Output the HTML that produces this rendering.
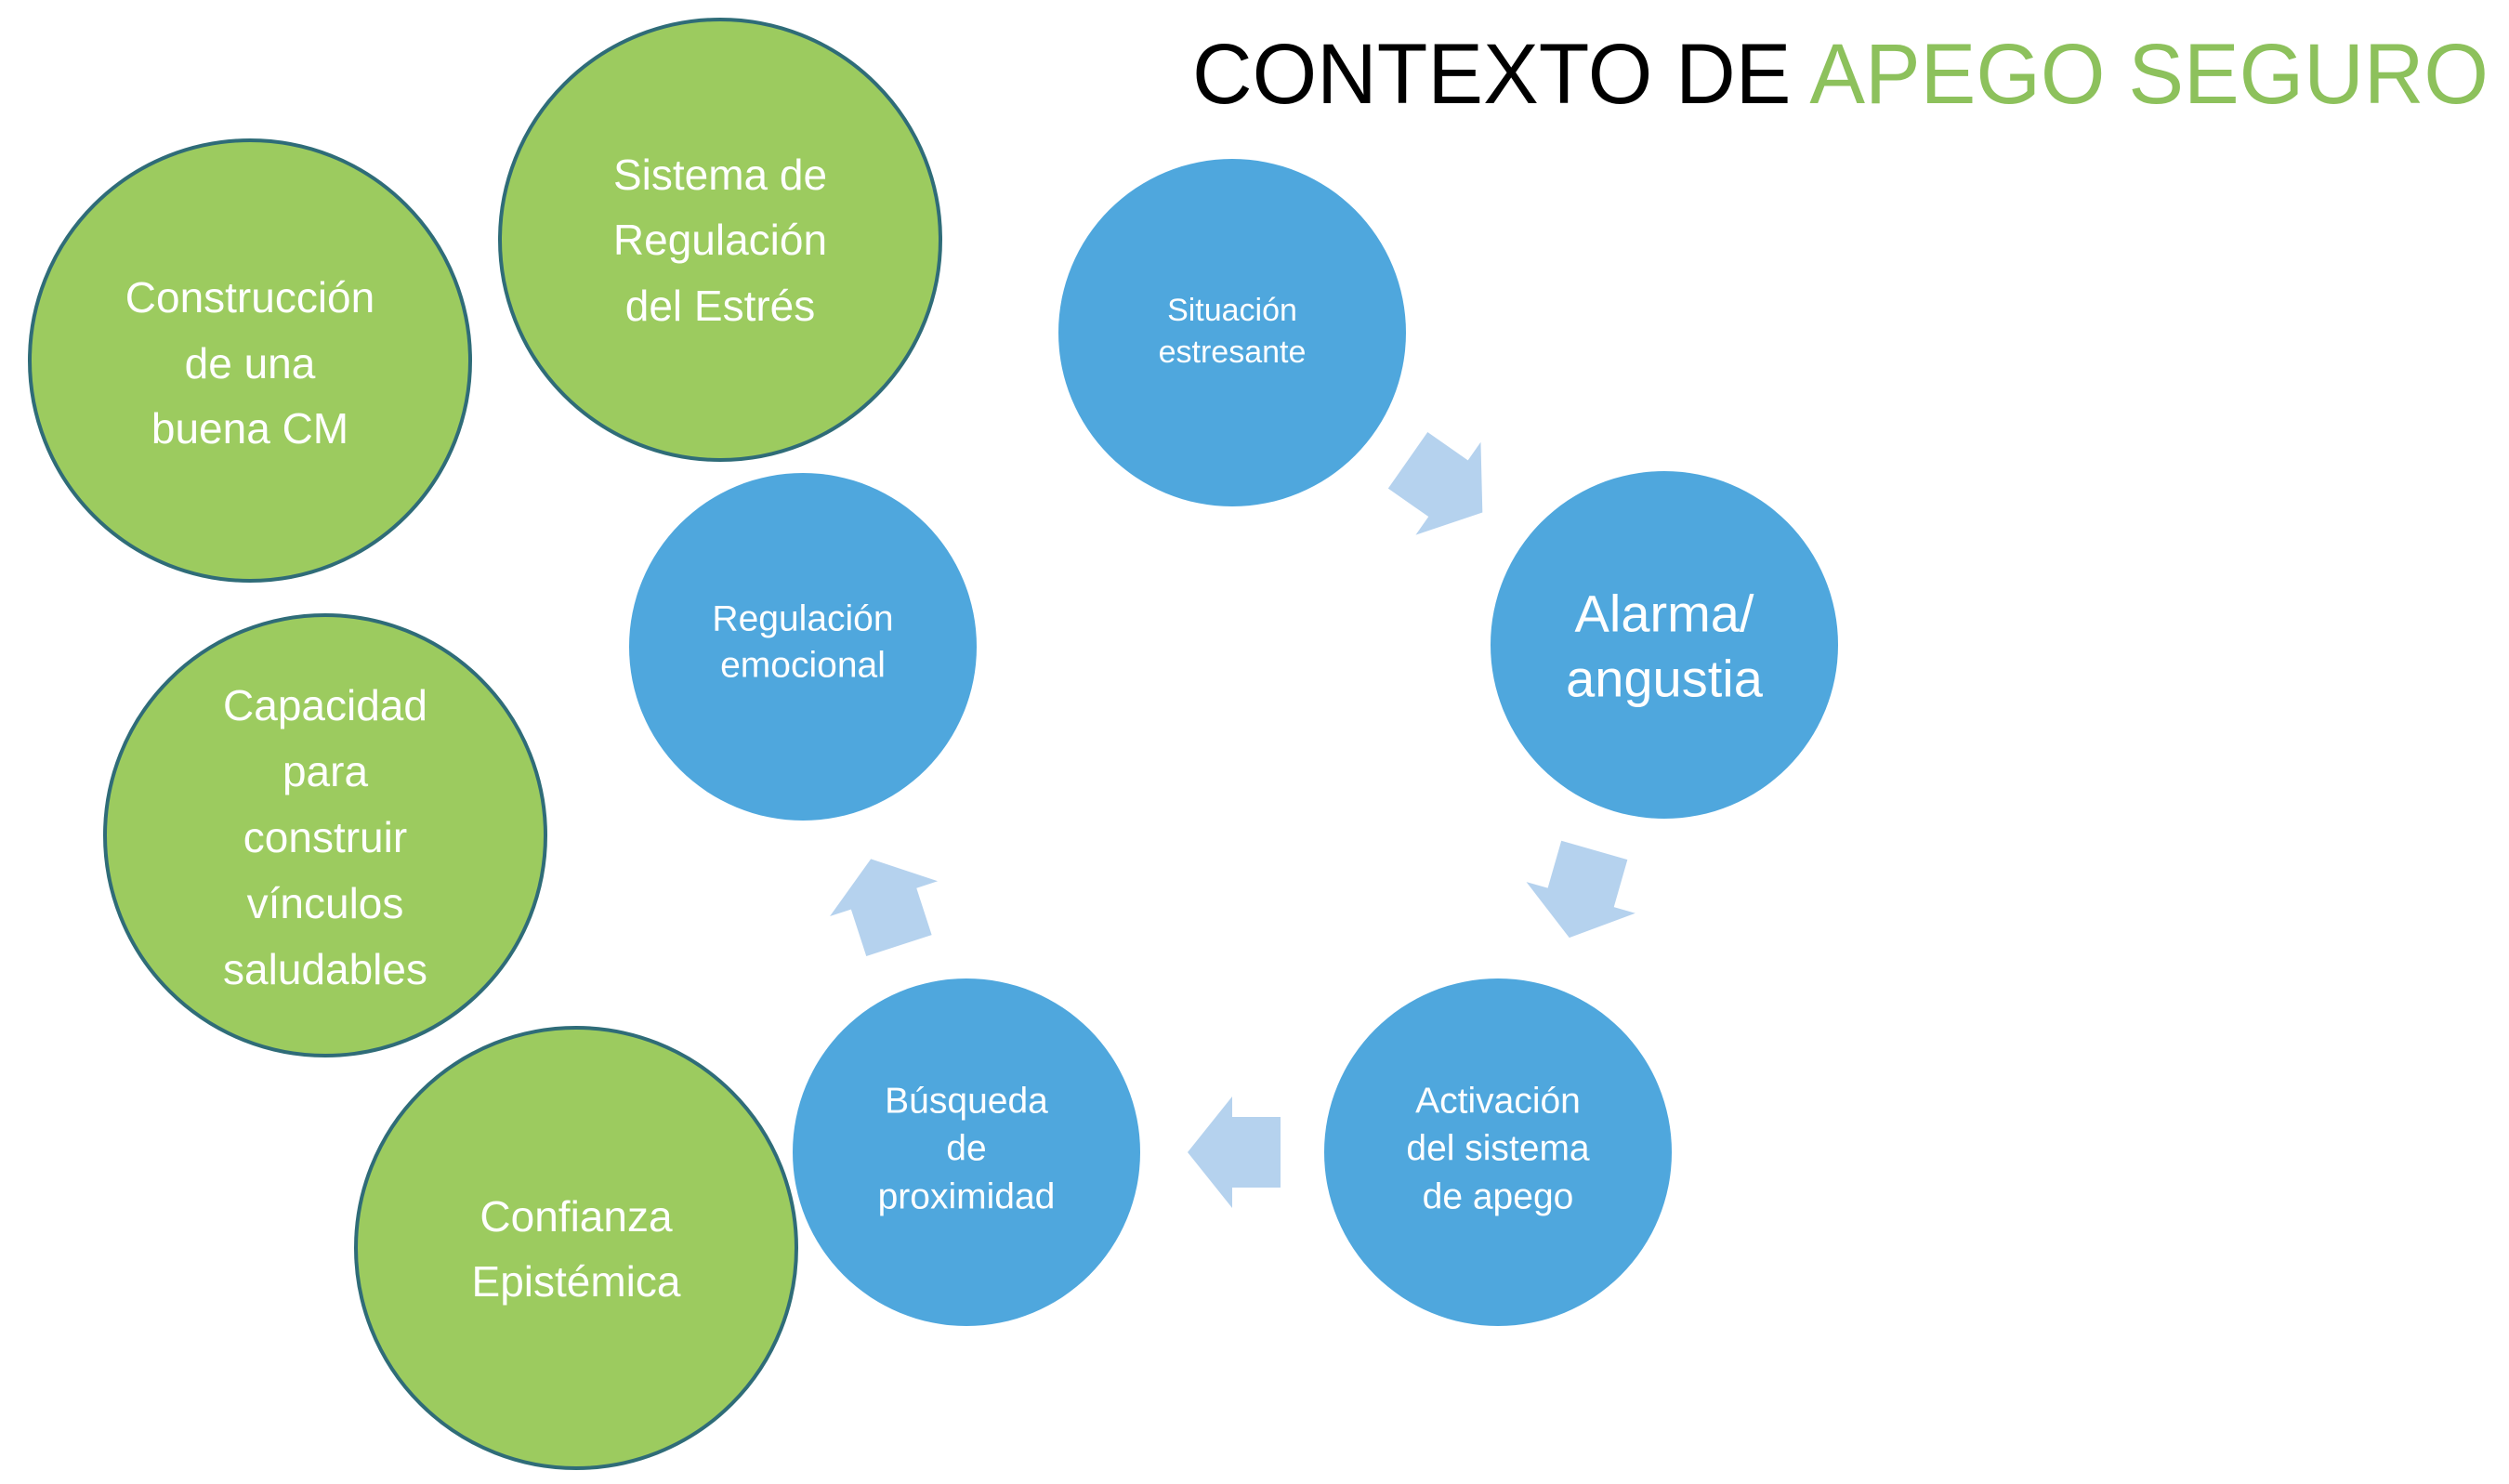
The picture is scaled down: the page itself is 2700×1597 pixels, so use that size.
<!DOCTYPE html>
<html><head><meta charset="utf-8"><style>
html,body{margin:0;padding:0;background:#fff;}
svg{display:block;}
text{font-family:"Liberation Sans",sans-serif;fill:#fff;text-anchor:middle;dominant-baseline:central;}
</style></head><body>
<svg width="2700" height="1597" viewBox="0 0 2700 1597" xmlns="http://www.w3.org/2000/svg">
<rect width="2700" height="1597" fill="#fff"/>
<text x="1283" y="80" style="text-anchor:start;fill:#000;font-size:92px" textLength="1395" lengthAdjust="spacingAndGlyphs">CONTEXTO DE <tspan fill="#8dc15c">APEGO SEGURO</tspan></text>

<g fill="#9ccb5f" stroke="#2f6c78" stroke-width="4">
<circle cx="775" cy="258" r="237"/>
<circle cx="269" cy="388" r="237"/>
<circle cx="350" cy="899" r="237"/>
<circle cx="620" cy="1343" r="237"/>
</g>
<g fill="#4fa7dd">
<circle cx="1326" cy="358" r="187"/>
<circle cx="1791" cy="694" r="187"/>
<circle cx="1612" cy="1240" r="187"/>
<circle cx="1040" cy="1240" r="187"/>
<circle cx="864" cy="696" r="187"/>
</g>

<g fill="#b5d2ee">
<path transform="translate(1556,524) rotate(35)" d="M-50,-37 L3,-37 L3,-61 L48,0 L3,61 L3,37 L-50,37 Z"/>
<path transform="translate(1702,963) rotate(106)" d="M-50,-37 L3,-37 L3,-61 L48,0 L3,61 L3,37 L-50,37 Z"/>
<path transform="translate(1328,1240) rotate(180)" d="M-50,-38 L2,-38 L2,-60 L50,0 L2,60 L2,38 L-50,38 Z"/>
<path transform="translate(952,970) rotate(252)" d="M-50,-37 L3,-37 L3,-61 L48,0 L3,61 L3,37 L-50,37 Z"/>
</g>

<g style="font-size:46px">
<text x="775" y="188">Sistema de</text>
<text x="775" y="258">Regulación</text>
<text x="775" y="329">del Estrés</text>
<text x="269" y="320">Construcción</text>
<text x="269" y="391">de una</text>
<text x="269" y="461">buena CM</text>
<text x="350" y="759">Capacidad</text>
<text x="350" y="830">para</text>
<text x="350" y="901">construir</text>
<text x="350" y="972">vínculos</text>
<text x="350" y="1043">saludables</text>
<text x="620" y="1309">Confianza</text>
<text x="620" y="1379">Epistémica</text>
</g>
<g style="font-size:34px">
<text x="1326" y="334">Situación</text>
<text x="1326" y="379">estresante</text>
</g>
<g style="font-size:56px">
<text x="1791" y="660">Alarma/</text>
<text x="1791" y="730">angustia</text>
</g>
<g style="font-size:39px">
<text x="864" y="666">Regulación</text>
<text x="864" y="716">emocional</text>
<text x="1040" y="1185">Búsqueda</text>
<text x="1040" y="1236">de</text>
<text x="1040" y="1288">proximidad</text>
<text x="1612" y="1185">Activación</text>
<text x="1612" y="1236">del sistema</text>
<text x="1612" y="1288">de apego</text>
</g>
</svg>
</body></html>
